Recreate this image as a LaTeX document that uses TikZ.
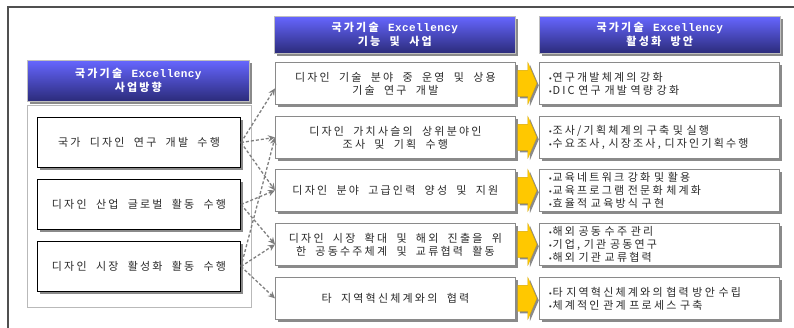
\documentclass[tikz,border=0pt]{standalone}
\usepackage{fontspec}
\setmainfont{Noto Sans CJK KR}[LetterSpace=20,WordSpace=2]
\newfontfamily\monof{Liberation Mono}[LetterSpace=4]
\newfontfamily\dejavuf{DejaVu Sans}
\usetikzlibrary{arrows.meta,shadows}
\definecolor{frameC}{HTML}{505050}
\definecolor{hdTop}{HTML}{6666FF}
\definecolor{hdBot}{HTML}{2B2B7A}
\definecolor{shadowC}{HTML}{8A8A8A}
\definecolor{gold}{HTML}{FFC800}
\definecolor{boxline}{HTML}{8A8A8A}
\definecolor{txt}{HTML}{2A2A2A}
\definecolor{dashC}{HTML}{7F7F7F}
\newcommand\bu{{\fontsize{7}{7}\selectfont\dejavuf •}}
\newcommand\li[1]{\mbox{\bu#1}}
\tikzset{
  shad/.style={drop shadow={shadow xshift=3pt,shadow yshift=-3pt,fill=shadowC,opacity=1}},
  hdr/.style={draw=gray!50, line width=0.6pt, top color=hdTop, bottom color=hdBot,
    text=white, font=\bfseries\fontsize{11}{14}\selectfont, align=center,
    anchor=north west, inner sep=0pt, minimum width=241pt, minimum height=37pt, shad},
  cont/.style={draw=gray!55, line width=0.8pt, fill=white, anchor=north west,
    inner sep=0pt, minimum width=224pt, minimum height=202pt},
  lbox/.style={draw=black, line width=1pt, fill=white, anchor=north west, inner sep=0pt,
    minimum width=203pt, minimum height=50pt, text=txt,
    font=\fontsize{11}{13}\selectfont,
    drop shadow={shadow xshift=2.5pt,shadow yshift=-2.5pt,fill=shadowC,opacity=1}},
  mbox/.style={draw=boxline, line width=0.8pt, fill=white, anchor=north west, inner sep=0pt,
    minimum width=240pt, minimum height=42pt, text=txt, align=center,
    font=\fontsize{11}{13}\selectfont, shad},
  rbox/.style={draw=boxline, line width=0.8pt, fill=white, anchor=north west,
    inner xsep=9pt, inner ysep=0pt, text width=222pt,
    minimum height=42pt, text=txt, align=left,
    font=\fontsize{11}{13}\selectfont, shad},
  yarr/.style={fill=gold, draw=gold!85!black, line width=0.3pt,
    drop shadow={shadow xshift=2pt,shadow yshift=-2pt,fill=shadowC,opacity=1}},
  dar/.style={draw=dashC, line width=1.3pt, dash pattern=on 3pt off 2pt,
    -{Stealth[length=7pt,width=6.5pt]}}
}
\begin{document}
\begin{tikzpicture}[x=1pt,y=-1pt]
\useasboundingbox (0,0) rectangle (794,328);
\draw[frameC, line width=1.2pt] (8,328) -- (8,7) -- (794,7);

% headers
\node[hdr, minimum width=222pt, minimum height=41pt] (hl) at (27,60) {국가기술 {\monof Excellency}\\사업방향};
\node[hdr] (hm) at (274,16) {국가기술 {\monof Excellency}\\기능 및 사업};
\node[hdr] (hr) at (539,16) {국가기술 {\monof Excellency}\\활성화 방안};

% left column
\node[cont] (lc) at (27,105) {};
\node[lbox] (l1) at (37,117) {국가 디자인 연구 개발 수행};
\node[lbox] (l2) at (37,179) {디자인 산업 글로벌 활동 수행};
\node[lbox] (l3) at (37,241) {디자인 시장 활성화 활동 수행};

% middle column
\node[mbox] (m1) at (275,62) {디자인 기술 분야 중 운영 및 상용\\기술 연구 개발};
\node[mbox] (m2) at (275,116) {디자인 가치사슬의 상위분야인\\조사 및 기획 수행};
\node[mbox] (m3) at (275,169) {디자인 분야 고급인력 양성 및 지원};
\node[mbox] (m4) at (275,223) {디자인 시장 확대 및 해외 진출을 위\\한 공동수주체계 및 교류협력 활동};
\node[mbox] (m5) at (275,277) {타 지역혁신체계와의 협력};

% right column
\node[rbox] (r1) at (539,62) {\li{연구개발체계의 강화}\\\li{DIC 연구 개발 역량 강화}};
\node[rbox] (r2) at (539,116) {\li{조사/기획체계의 구축 및 실행}\\\li{수요조사, 시장조사, 디자인기획수행}};
\node[rbox] (r3) at (539,169) {\li{교육네트워크 강화 및 활용}\\\li{교육프로그램 전문화 체계화}\\\li{효율적 교육방식 구현}};
\node[rbox] (r4) at (539,223) {\li{해외 공동 수주 관리}\\\li{기업, 기관 공동연구}\\\li{해외 기관 교류협력}};
\node[rbox] (r5) at (539,277) {\li{타 지역혁신체계와의 협력 방안 수립}\\\li{체계적인 관계 프로세스 구축}};

% yellow arrows
\foreach \m in {m1,m2,m3,m4,m5}{
  \path[yarr] ([xshift=2pt]\m.east) ++(0,-13) -- ++(10,0) -- ++(0,-8) -- ++(9,21)
     -- ++(-9,21) -- ++(0,-8) -- ++(-10,0) -- cycle;
}

% dashed connectors
\draw[dar] (l1.east) -- ([yshift=-5pt]m1.west);
\draw[dar] (l1.east) -- (m2.west);
\draw[dar] (l1.east) -- (m3.west);
\draw[dar] (l2.east) -- (m3.west);
\draw[dar] (l2.east) -- (m4.west);
\draw[dar] (l3.east) -- (m2.west);
\draw[dar] (l3.east) -- (m4.west);
\draw[dar] (l3.east) -- (m5.west);
\end{tikzpicture}
\end{document}
